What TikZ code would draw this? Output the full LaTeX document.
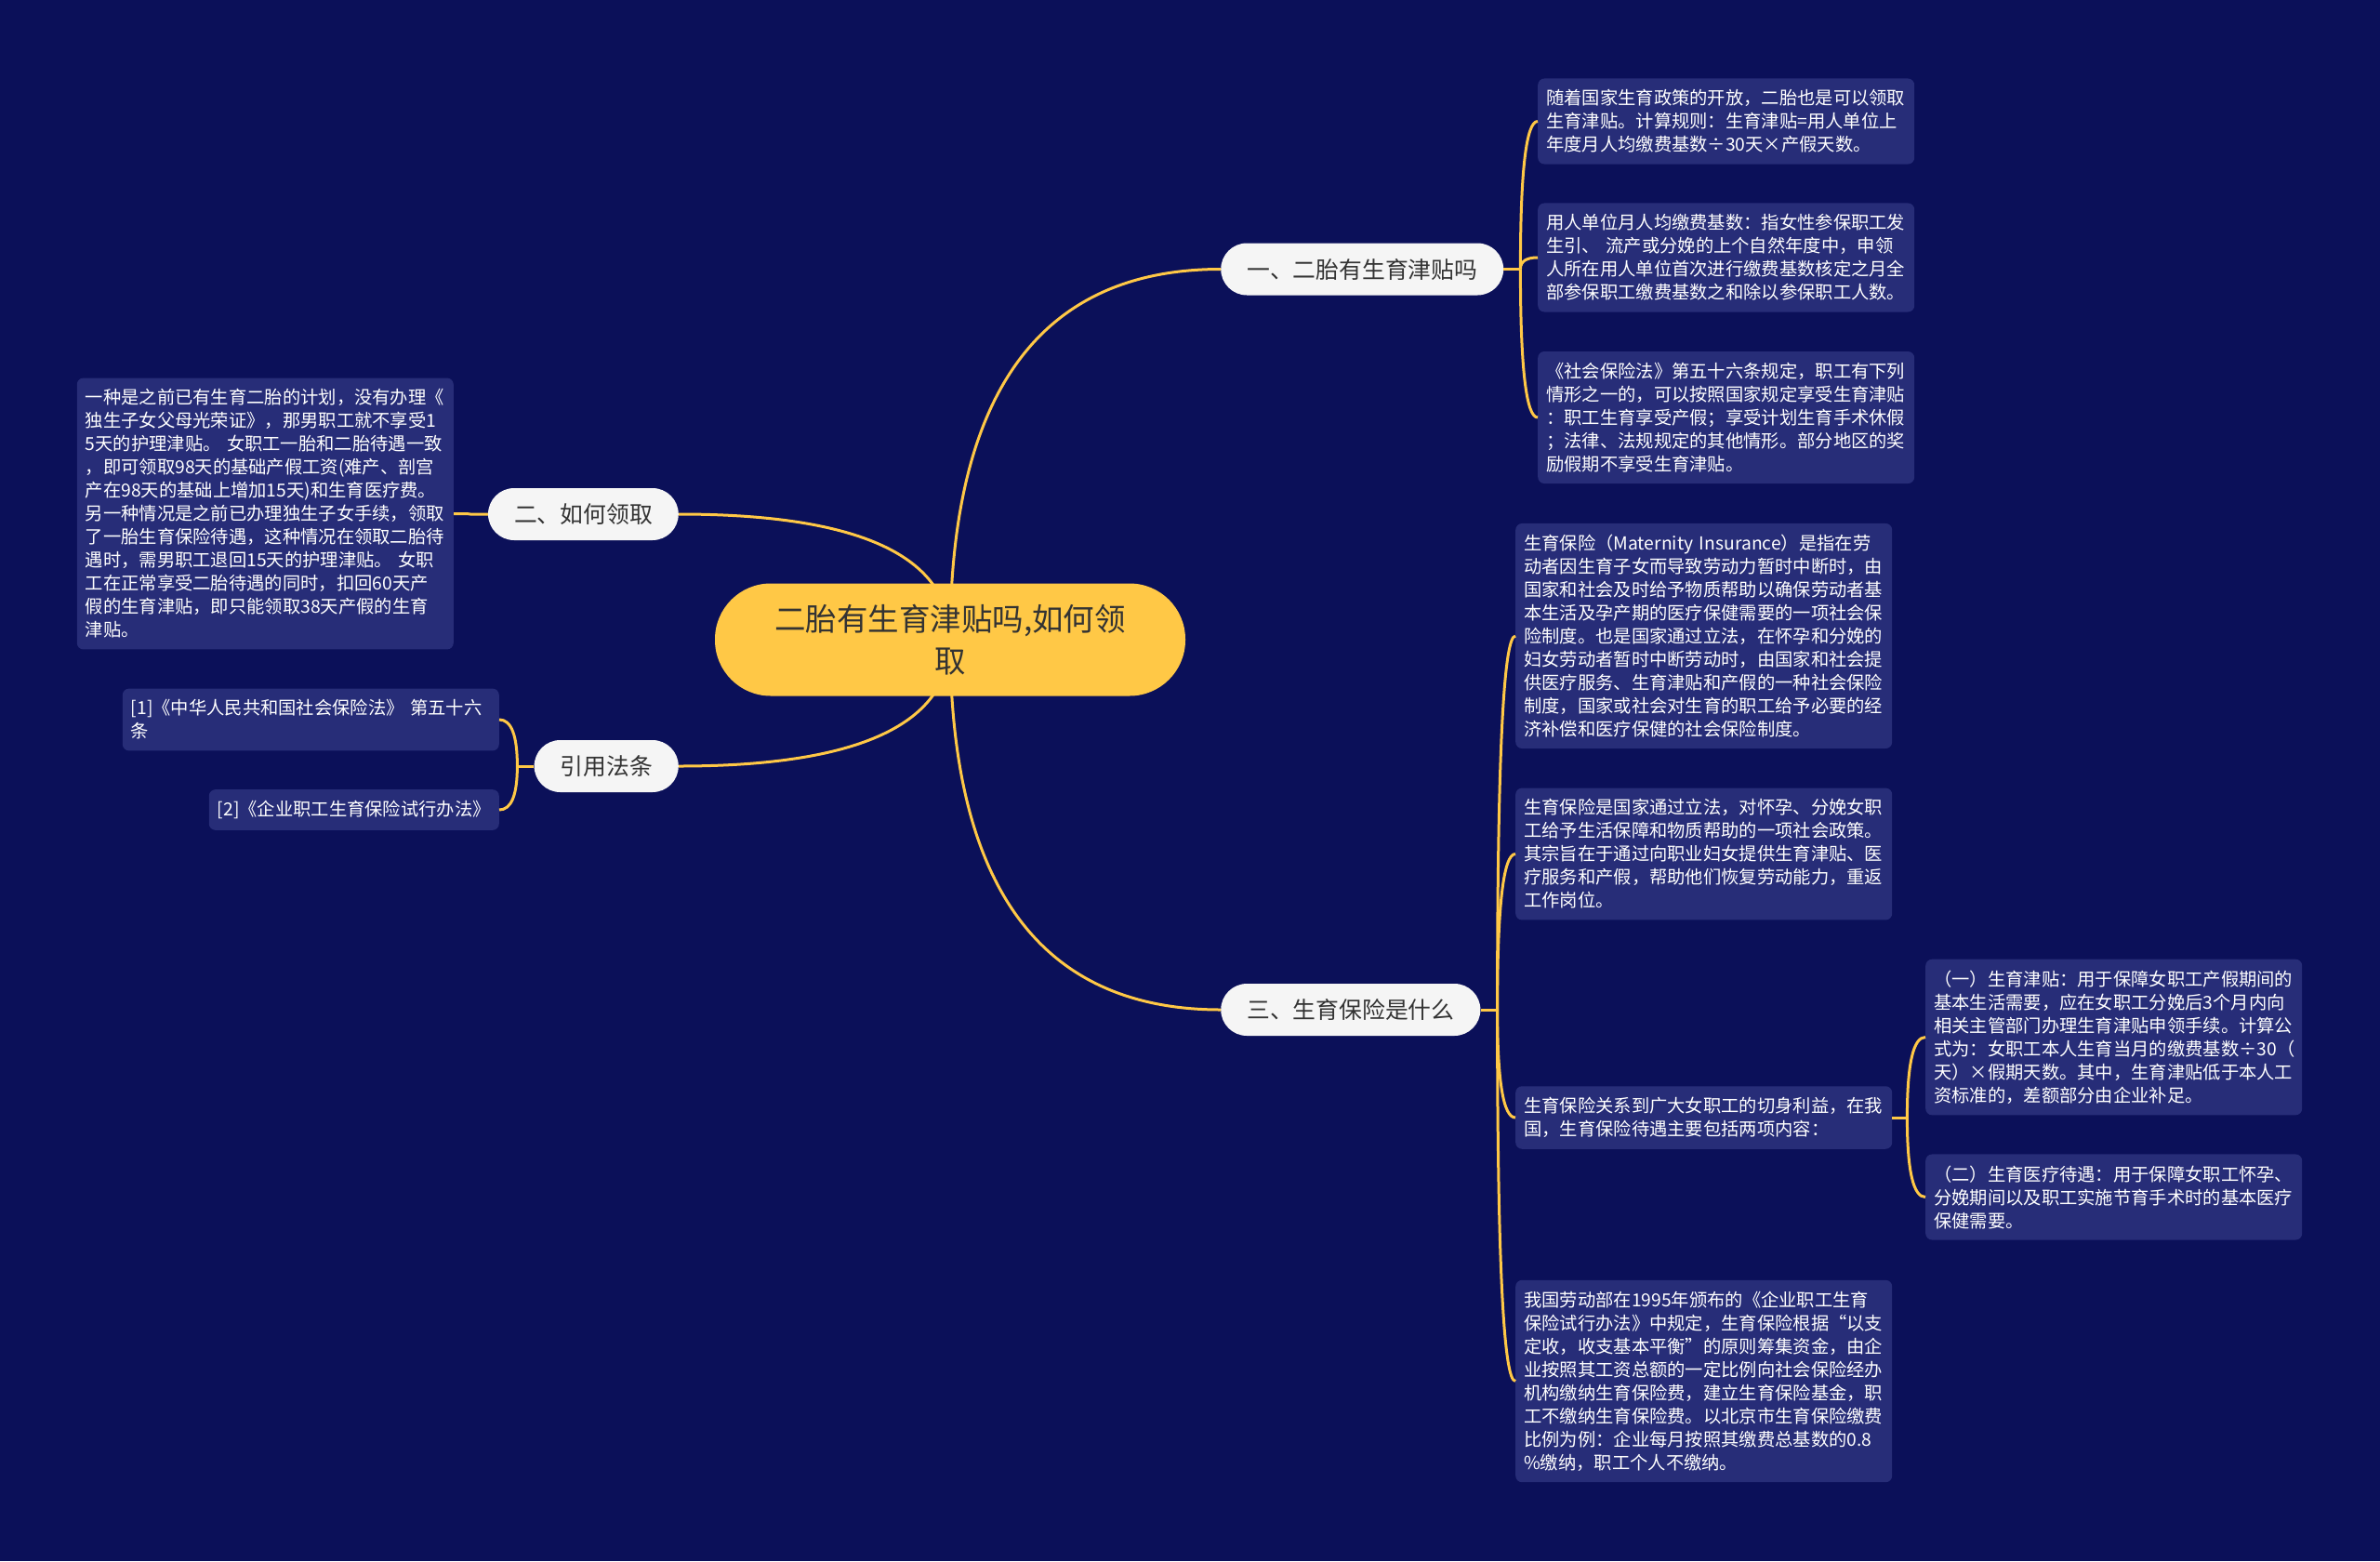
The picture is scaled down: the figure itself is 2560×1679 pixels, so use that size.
\documentclass[tikz,border=0pt]{standalone}
\usepackage{fontspec}
\newfontfamily\zhfont{Noto Sans CJK SC}
\usetikzlibrary{calc}
\definecolor{navybg}{RGB}{11,16,89}
\definecolor{leaffill}{RGB}{39,45,120}
\definecolor{gold}{RGB}{255,200,70}
\definecolor{pillfill}{RGB}{245,245,245}
\definecolor{inkgrey}{RGB}{51,51,51}
\begin{document}
\begin{tikzpicture}[x=1pt,y=-1pt,
  link/.style={draw=gold,line width=3pt},
  quad/.style={to path={.. controls ($(\tikztostart)!2/3!(\tikztostart |- \tikztotarget)$) and ($(\tikztotarget)!2/3!(\tikztostart |- \tikztotarget)$) .. (\tikztotarget)}},
  rootnode/.style={fill=gold,rounded corners=60pt,minimum width=506pt,minimum height=121pt,align=center,text=inkgrey,font=\zhfont\fontsize{33.5}{45}\selectfont},
  branch/.style={fill=pillfill,rounded corners=28pt,text=inkgrey,inner xsep=28pt,inner ysep=0pt,minimum height=56pt,font=\zhfont\fontsize{24.8}{30}\selectfont},
  leaf/.style={fill=leaffill,rounded corners=7pt,text=white,text width=387pt,align=left,inner xsep=9pt,inner ysep=12pt,font=\zhfont\fontsize{19.3}{25}\selectfont}]
\path[use as bounding box,fill=navybg] (0,0) rectangle (2560,1679);
\coordinate (rootc) at (1022,688);
% main branches
\node[branch,anchor=west] (b1) at (1313,289.5) {一、二胎有生育津贴吗};
\node[branch,anchor=east] (b2) at (730,553) {二、如何领取};
\node[branch,anchor=west] (b3) at (1313,1086) {三、生育保险是什么};
\node[branch,anchor=east] (b4) at (730,824) {引用法条};
% branch 1
\node[leaf,anchor=west] (r1a) at (1654,130.5) {随着国家生育政策的开放，二胎也是可以领取\\生育津贴。计算规则：生育津贴=用人单位上\\年度月人均缴费基数÷30天×产假天数。};
\node[leaf,anchor=west] (r1b) at (1654,277) {用人单位月人均缴费基数：指女性参保职工发\\生引、~流产或分娩的上个自然年度中，申领\\人所在用人单位首次进行缴费基数核定之月全\\部参保职工缴费基数之和除以参保职工人数。};
\node[leaf,anchor=west] (r1c) at (1654,449) {《社会保险法》第五十六条规定，职工有下列\\情形之一的，可以按照国家规定享受生育津贴\\：职工生育享受产假；享受计划生育手术休假\\；法律、法规规定的其他情形。部分地区的奖\\励假期不享受生育津贴。};
% branch 2
\node[leaf,anchor=east] (l2) at (488,552.5) {一种是之前已有生育二胎的计划，没有办理《\\独生子女父母光荣证》，那男职工就不享受1\\5天的护理津贴。~女职工一胎和二胎待遇一致\\，即可领取98天的基础产假工资(难产、剖宫\\产在98天的基础上增加15天)和生育医疗费。\\另一种情况是之前已办理独生子女手续，领取\\了一胎生育保险待遇，这种情况在领取二胎待\\遇时，需男职工退回15天的护理津贴。~女职\\工在正常享受二胎待遇的同时，扣回60天产\\假的生育津贴，即只能领取38天产假的生育\\津贴。};
% branch 4
\node[leaf,anchor=east] (l4a) at (537,774) {[1]《中华人民共和国社会保险法》~第五十六\\条};
\node[leaf,anchor=east,text width=294pt] (l4b) at (537,871) {[2]《企业职工生育保险试行办法》};
% branch 3
\node[leaf,anchor=west] (r3a) at (1630,684) {生育保险（Maternity~Insurance）是指在劳\\动者因生育子女而导致劳动力暂时中断时，由\\国家和社会及时给予物质帮助以确保劳动者基\\本生活及孕产期的医疗保健需要的一项社会保\\险制度。也是国家通过立法，在怀孕和分娩的\\妇女劳动者暂时中断劳动时，由国家和社会提\\供医疗服务、生育津贴和产假的一种社会保险\\制度，国家或社会对生育的职工给予必要的经\\济补偿和医疗保健的社会保险制度。};
\node[leaf,anchor=west] (r3b) at (1630,918.5) {生育保险是国家通过立法，对怀孕、分娩女职\\工给予生活保障和物质帮助的一项社会政策。\\其宗旨在于通过向职业妇女提供生育津贴、医\\疗服务和产假，帮助他们恢复劳动能力，重返\\工作岗位。};
\node[leaf,anchor=west] (r3c) at (1630,1202) {生育保险关系到广大女职工的切身利益，在我\\国，生育保险待遇主要包括两项内容：};
\node[leaf,anchor=west] (r3c1) at (2071,1115.5) {（一）生育津贴：用于保障女职工产假期间的\\基本生活需要，应在女职工分娩后3个月内向\\相关主管部门办理生育津贴申领手续。计算公\\式为：女职工本人生育当月的缴费基数÷30（\\天）×假期天数。其中，生育津贴低于本人工\\资标准的，差额部分由企业补足。};
\node[leaf,anchor=west] (r3c2) at (2071,1287.5) {（二）生育医疗待遇：用于保障女职工怀孕、\\分娩期间以及职工实施节育手术时的基本医疗\\保健需要。};
\node[leaf,anchor=west] (r3d) at (1630,1485.5) {我国劳动部在1995年颁布的《企业职工生育\\保险试行办法》中规定，生育保险根据“以支\\定收，收支基本平衡”的原则筹集资金，由企\\业按照其工资总额的一定比例向社会保险经办\\机构缴纳生育保险费，建立生育保险基金，职\\工不缴纳生育保险费。以北京市生育保险缴费\\比例为例：企业每月按照其缴费总基数的0.8\\\%缴纳，职工个人不缴纳。};
% junctions
\coordinate (b1j) at ($(b1.east)+(18,0)$);
\coordinate (b2j) at ($(b2.west)+(-19,0)$);
\coordinate (b3j) at ($(b3.east)+(18,0)$);
\coordinate (b4j) at ($(b4.west)+(-18,0)$);
\coordinate (r3cj) at ($(r3c.east)+(16,0)$);
% links
\draw[link] (rootc) to[quad] (b1.west);
\draw[link] (rootc) to[quad] (b2.east);
\draw[link] (rootc) to[quad] (b3.west);
\draw[link] (rootc) to[quad] (b4.east);
\draw[link] (b1.east) -- (b1j);
\foreach \leafname in {r1a,r1b,r1c} \draw[link] (b1j) to[quad] (\leafname.west);
\draw[link] (b2.west) -- (b2j) to[quad] (l2.east);
\draw[link] (b4.west) -- (b4j);
\foreach \leafname in {l4a,l4b} \draw[link] (b4j) to[quad] (\leafname.east);
\draw[link] (b3.east) -- (b3j);
\foreach \leafname in {r3a,r3b,r3c,r3d} \draw[link] (b3j) to[quad] (\leafname.west);
\draw[link] (r3c.east) -- (r3cj);
\foreach \leafname in {r3c1,r3c2} \draw[link] (r3cj) to[quad] (\leafname.west);
% root
\node[rootnode] (root) at (rootc) {二胎有生育津贴吗,如何领\\取};
\end{tikzpicture}
\end{document}
